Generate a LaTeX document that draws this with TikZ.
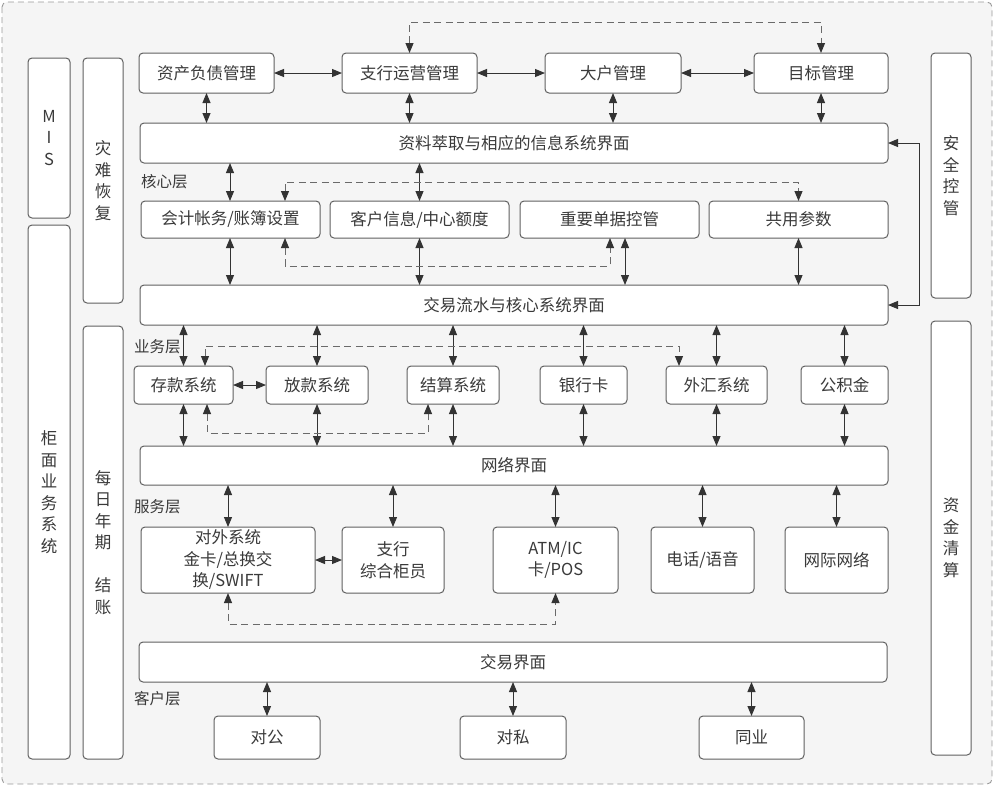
\documentclass[tikz,border=0pt]{standalone}
\usepackage{fontspec}
\setmainfont{Noto Sans CJK SC}
\usetikzlibrary{arrows.meta}
\definecolor{bg}{HTML}{F5F5F5}
\definecolor{bd}{HTML}{606060}
\definecolor{ln}{HTML}{333333}
\definecolor{dl}{HTML}{6A6A6A}
\definecolor{tx}{HTML}{3A3A3A}
\newcommand\bx[6]{\node[box,minimum width={(#4-#2)*1pt},minimum height={(#5-#3)*1pt}] (#1) at ({(#2+#4)/2},{(#3+#5)/2}) {#6};}
\tikzset{
  box/.style={draw=bd,fill=white,rounded corners=4pt,line width=1pt,inner sep=0pt,outer sep=0pt,align=center,text=tx,font=\fontsize{16.5}{21.5}\selectfont},
  lbl/.style={text=tx,font=\fontsize{15.5}{20}\selectfont,inner sep=0pt,anchor=west},
  arr/.style={draw=ln,line width=1pt,{Triangle[length=10pt,width=8pt]}-{Triangle[length=10pt,width=8pt]}},
  darr/.style={draw=dl,line width=1pt,dash pattern=on 7pt off 4.5pt,{Triangle[length=10pt,width=8pt,color=ln]}-{Triangle[length=10pt,width=8pt,color=ln]}}
}
\begin{document}
\begin{tikzpicture}[x=1pt,y=-1pt]
\useasboundingbox (0,0) rectangle (996,788);
\draw[draw=gray!80,fill=bg,rounded corners=5pt,line width=0.9pt,dash pattern=on 6pt off 4pt] (2,2) rectangle (992,784);
% side columns
\bx{mis}{28}{58}{70}{218}{M\\I\\S}
\bx{gui}{28}{225}{70}{759}{柜\\面\\业\\务\\系\\统}
\bx{zai}{83}{58}{123}{303}{灾\\难\\恢\\复}
\bx{mei}{83}{326}{123}{759}{每\\日\\年\\期\\\mbox{}\\结\\账}
\bx{anq}{931}{53}{971}{298}{安\\全\\控\\管}
\bx{zij}{931}{321}{971}{755}{资\\金\\清\\算}
% top row
\bx{zcfz}{139}{53}{274}{93}{资产负债管理}
\bx{zhyy}{342}{53}{477}{93}{支行运营管理}
\bx{dahu}{545}{53}{681}{93}{大户管理}
\bx{mb}{754}{53}{888}{93}{目标管理}
\bx{zlcq}{140}{123}{888}{163}{资料萃取与相应的信息系统界面}
% core
\node[lbl] (l1) at (141,182) {核心层};
\bx{kj}{141}{201}{320}{238}{会计帐务/账簿设置}
\bx{kh}{330}{201}{509}{238}{客户信息/中心额度}
\bx{zy}{520}{201}{699}{238}{重要单据控管}
\bx{gy}{709}{201}{888}{238}{共用参数}
\bx{jyls}{140}{285}{888}{325}{交易流水与核心系统界面}
% business
\node[lbl] (l2) at (134,347) {业务层};
\bx{ck}{134}{366}{233}{404}{存款系统}
\bx{fk}{266}{366}{368}{404}{放款系统}
\bx{js}{407}{366}{499}{404}{结算系统}
\bx{yhk}{540}{366}{627}{404}{银行卡}
\bx{wh}{666}{366}{767}{404}{外汇系统}
\bx{gjj}{801}{366}{888}{404}{公积金}
\bx{wl}{140}{446}{888}{485}{网络界面}
% service
\node[lbl] (l3) at (134,507) {服务层};
\bx{dw}{141}{527}{315}{593}{\fontsize{16.5}{20}\selectfont 对外系统\\金卡/总换交\\换/SWIFT}
\bx{zhgy}{342}{527}{444}{593}{\fontsize{16.5}{20}\selectfont 支行\\综合柜员}
\bx{atm}{493}{527}{618}{593}{\fontsize{16.5}{20}\selectfont ATM/IC\\卡/POS}
\bx{dh}{651}{527}{754}{593}{电话/语音}
\bx{wj}{785}{527}{888}{593}{网际网络}
\bx{jyjm}{139}{642}{887}{682}{交易界面}
% client
\node[lbl] (l4) at (134,699) {客户层};
\bx{dg}{214}{716}{320}{759}{对公}
\bx{ds}{460}{716}{566}{759}{对私}
\bx{ty}{699}{716}{804}{759}{同业}
% top row connectors
\draw[arr] (zcfz.east) -- (zhyy.west);
\draw[arr] (zhyy.east) -- (dahu.west);
\draw[arr] (dahu.east) -- (mb.west);
\draw[darr] (zhyy.north) -- ++(0,-31) -| (mb.north);
\foreach \n in {zcfz,zhyy,dahu,mb} \draw[arr] (\n.south) -- (\n.south |- zlcq.north);
% core connectors
\draw[arr] ([xshift=-0.5pt]kj.north) -- ([xshift=-0.5pt]kj.north |- zlcq.south);
\draw[arr] (kh.north) -- (kh.north |- zlcq.south);
\draw[darr] ([xshift=54.5pt]kj.north) -- ++(0,-19) -| (gy.north);
\draw[arr] ([xshift=-0.5pt]kj.south) -- ([xshift=-0.5pt]kj.south |- jyls.north);
\draw[arr] (kh.south) -- (kh.south |- jyls.north);
\draw[arr] ([xshift=15.5pt]zy.south) -- ([xshift=15.5pt]zy.south |- jyls.north);
\draw[arr] (gy.south) -- (gy.south |- jyls.north);
\draw[darr] ([xshift=54.5pt]kj.south) -- ++(0,28) -| ([xshift=0.5pt]zy.south);
\draw[arr] (jyls.east) -- ++(31,0) |- (zlcq.east);
% business connectors
\foreach \n in {ck,fk,js,yhk,wh,gjj} {
  \draw[arr] (\n.north) -- (\n.north |- jyls.south);
  \draw[arr] (\n.south) -- (\n.south |- wl.north);
}
\draw[arr] (ck.east) -- (fk.west);
\draw[darr] ([xshift=21.5pt]ck.north) -- ++(0,-20) -| ([xshift=-37.5pt]wh.north);
\draw[darr] ([xshift=23.5pt]ck.south) -- ++(0,29) -| ([xshift=-25pt]js.south);
% service connectors
\foreach \n in {dw,zhgy,atm,dh,wj} \draw[arr] (\n.north) -- (\n.north |- wl.south);
\draw[arr] (dw.east) -- (zhgy.west);
\draw[darr] (dw.south) -- ++(0,31) -| (atm.south);
% client connectors
\foreach \n in {dg,ds,ty} \draw[arr] (\n.north) -- (\n.north |- jyjm.south);
\end{tikzpicture}
\end{document}
